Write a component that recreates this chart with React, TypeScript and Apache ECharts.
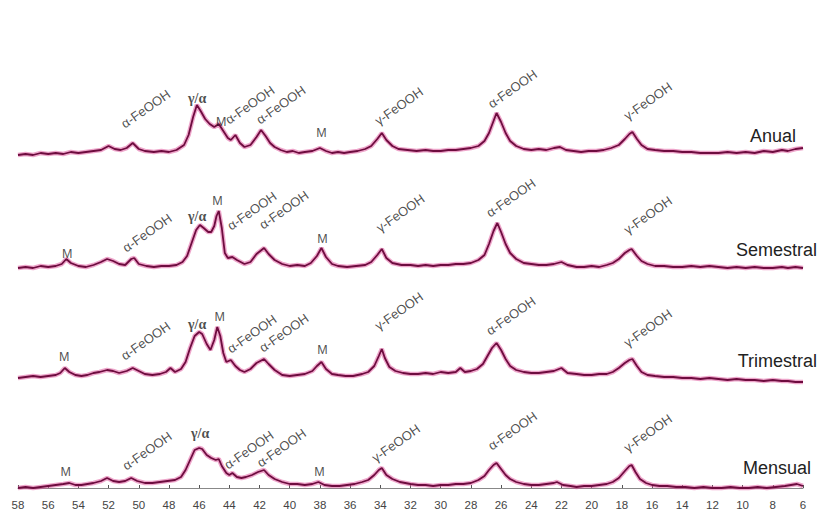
import React, { useEffect, useRef } from "react";
import * as echarts from "echarts";

// 2θ (degrees) vs relative intensity (arbitrary units above each trace's baseline)
const anual: [number, number][] = [
  [58.0, 0], [57.5, 1], [57.0, 0], [56.5, 2], [56.0, 1], [55.5, 2], [55.0, 1], [54.5, 3], [54.0, 2], [53.5, 3],
  [53.0, 4], [52.5, 5], [52.0, 9], [51.6, 6], [51.2, 5], [50.8, 7], [50.4, 12], [50.0, 6], [49.6, 4], [49.0, 3],
  [48.5, 4], [48.0, 3], [47.5, 5], [47.2, 8], [47.0, 10], [46.7, 20], [46.4, 38], [46.15, 50], [45.9, 44], [45.6, 36],
  [45.3, 31], [45.0, 28], [44.7, 31], [44.4, 24], [44.1, 17], [43.9, 15], [43.6, 20], [43.3, 12], [43.0, 8], [42.6, 10],
  [42.2, 18], [41.9, 25], [41.6, 19], [41.3, 12], [41.0, 8], [40.6, 5], [40.2, 3], [39.8, 4], [39.4, 2], [39.0, 3],
  [38.5, 4], [38.0, 7], [37.6, 4], [37.2, 2], [36.8, 3], [36.4, 2], [36.0, 3], [35.5, 4], [35.0, 6], [34.6, 9],
  [34.2, 16], [33.9, 22], [33.6, 15], [33.2, 9], [32.8, 6], [32.2, 5], [31.6, 4], [31.0, 5], [30.5, 4], [30.0, 4],
  [29.5, 5], [29.0, 5], [28.5, 6], [28.0, 7], [27.5, 9], [27.1, 14], [26.8, 22], [26.5, 34], [26.3, 42], [26.0, 33],
  [25.7, 22], [25.4, 14], [25.0, 9], [24.5, 6], [24.0, 5], [23.5, 6], [23.0, 5], [22.5, 7], [22.1, 8], [21.7, 5],
  [21.2, 4], [20.7, 3], [20.2, 4], [19.7, 4], [19.2, 5], [18.7, 7], [18.2, 10], [17.8, 16], [17.5, 21], [17.3, 23],
  [17.0, 16], [16.7, 10], [16.3, 6], [15.8, 5], [15.2, 4], [14.6, 4], [14.0, 3], [13.4, 3], [12.8, 2], [12.2, 2],
  [11.6, 2], [11.0, 3], [10.4, 2], [9.8, 3], [9.2, 2], [8.6, 4], [8.0, 3], [7.4, 5], [7.0, 4], [6.5, 6], [6.0, 7],
];

const semestral: [number, number][] = [
  [58.0, 0], [57.5, 1], [57.0, 0], [56.5, 2], [56.0, 1], [55.5, 2], [55.1, 4], [54.8, 9], [54.5, 5], [54.0, 2],
  [53.5, 1], [53.0, 3], [52.5, 6], [52.1, 9], [51.7, 7], [51.3, 4], [50.9, 3], [50.5, 9], [50.3, 10], [50.0, 4],
  [49.5, 2], [49.0, 1], [48.5, 2], [48.0, 2], [47.5, 3], [47.1, 6], [46.8, 12], [46.5, 25], [46.2, 38], [45.95, 43],
  [45.7, 40], [45.4, 36], [45.2, 36], [45.0, 42], [44.85, 52], [44.7, 57], [44.5, 40], [44.3, 15], [44.1, 10], [43.8, 11],
  [43.5, 8], [43.0, 4], [42.6, 6], [42.2, 14], [41.7, 20], [41.4, 14], [41.0, 8], [40.5, 4], [40.0, 2], [39.5, 3],
  [39.0, 2], [38.6, 5], [38.2, 12], [37.9, 20], [37.6, 11], [37.2, 4], [36.8, 2], [36.2, 1], [35.6, 2], [35.0, 3],
  [34.6, 6], [34.2, 13], [33.9, 19], [33.6, 10], [33.2, 5], [32.6, 3], [32.0, 3], [31.5, 2], [31.0, 3], [30.5, 2],
  [30.0, 3], [29.5, 3], [29.0, 4], [28.5, 4], [28.0, 5], [27.5, 8], [27.1, 13], [26.8, 24], [26.5, 37], [26.25, 45],
  [26.0, 36], [25.7, 24], [25.4, 15], [25.0, 9], [24.5, 5], [24.0, 4], [23.5, 3], [23.0, 3], [22.5, 4], [22.0, 6],
  [21.6, 3], [21.0, 1], [20.5, 1], [20.0, 2], [19.5, 1], [19.0, 3], [18.6, 5], [18.2, 9], [17.8, 15], [17.5, 18],
  [17.35, 19], [17.0, 12], [16.7, 7], [16.3, 4], [15.8, 2], [15.2, 2], [14.6, 1], [14.0, 1], [13.4, 2], [12.8, 1],
  [12.2, 2], [11.6, 1], [11.0, 0], [10.4, 1], [9.8, 0], [9.2, 1], [8.6, 0], [8.0, 0], [7.4, 1], [7.0, 0], [6.5, 1], [6.0, 0],
];

const trimestral: [number, number][] = [
  [58.0, 0], [57.5, 1], [57.0, 2], [56.5, 1], [56.0, 2], [55.5, 3], [55.2, 5], [54.9, 10], [54.6, 6], [54.2, 3],
  [53.8, 2], [53.4, 3], [53.0, 5], [52.6, 6], [52.1, 8], [51.7, 7], [51.3, 5], [50.8, 7], [50.4, 10], [50.0, 7],
  [49.6, 4], [49.1, 3], [48.6, 4], [48.2, 6], [47.9, 10], [47.6, 6], [47.2, 9], [46.9, 16], [46.6, 30], [46.3, 42],
  [46.0, 46], [45.8, 44], [45.5, 34], [45.25, 28], [45.0, 38], [44.8, 51], [44.6, 42], [44.4, 25], [44.2, 16], [43.9, 18],
  [43.6, 12], [43.3, 8], [43.0, 6], [42.6, 9], [42.2, 15], [41.7, 19], [41.4, 14], [41.0, 8], [40.5, 3], [40.0, 2],
  [39.5, 3], [39.0, 4], [38.5, 7], [38.2, 12], [37.9, 16], [37.6, 9], [37.2, 4], [36.8, 3], [36.3, 2], [35.8, 2],
  [35.2, 4], [34.8, 6], [34.4, 12], [34.1, 22], [33.9, 29], [33.7, 20], [33.4, 11], [33.0, 7], [32.5, 5], [32.0, 4],
  [31.5, 4], [31.0, 5], [30.5, 4], [30.0, 6], [29.5, 5], [29.0, 6], [28.7, 10], [28.4, 6], [28.0, 7], [27.6, 9],
  [27.2, 14], [26.9, 22], [26.6, 30], [26.3, 35], [26.0, 28], [25.7, 19], [25.4, 12], [25.0, 8], [24.5, 6], [24.0, 5],
  [23.5, 5], [23.0, 6], [22.5, 7], [22.0, 10], [21.6, 5], [21.0, 4], [20.5, 3], [20.0, 3], [19.5, 4], [19.0, 4],
  [18.6, 6], [18.2, 10], [17.8, 15], [17.5, 18], [17.3, 19], [17.0, 12], [16.7, 6], [16.3, 3], [15.8, 2], [15.2, 1],
  [14.6, 1], [14.0, 0], [13.4, 0], [12.8, -1], [12.2, 0], [11.6, -1], [11.0, -2], [10.4, -1], [9.8, -2], [9.2, -2],
  [8.6, -3], [8.0, -2], [7.4, -3], [7.0, -3], [6.5, -4], [6.0, -4],
];

const mensual: [number, number][] = [
  [58.0, 0], [57.5, 1], [57.0, 0], [56.5, 1], [56.0, 2], [55.5, 3], [55.0, 4], [54.6, 5], [54.2, 3], [53.8, 3],
  [53.4, 4], [53.0, 5], [52.5, 7], [52.1, 10], [51.7, 7], [51.3, 6], [50.9, 7], [50.5, 10], [50.1, 7], [49.6, 5],
  [49.1, 5], [48.6, 6], [48.1, 7], [47.6, 8], [47.2, 11], [46.9, 18], [46.6, 28], [46.3, 38], [46.0, 40], [45.8, 39],
  [45.5, 33], [45.2, 30], [44.9, 28], [44.7, 29], [44.5, 22], [44.2, 15], [44.0, 13], [43.8, 15], [43.5, 11], [43.2, 10],
  [42.9, 11], [42.5, 13], [42.1, 16], [41.7, 18], [41.4, 13], [41.0, 9], [40.5, 6], [40.0, 4], [39.5, 4], [39.0, 3],
  [38.5, 4], [38.1, 6], [37.7, 3], [37.2, 2], [36.7, 2], [36.2, 3], [35.7, 4], [35.2, 6], [34.8, 8], [34.4, 13],
  [34.1, 18], [33.9, 20], [33.6, 13], [33.2, 9], [32.7, 6], [32.0, 4], [31.5, 3], [31.0, 3], [30.5, 2], [30.0, 3],
  [29.5, 3], [29.0, 4], [28.5, 4], [28.0, 5], [27.5, 8], [27.1, 12], [26.8, 18], [26.5, 23], [26.3, 25], [26.0, 19],
  [25.7, 13], [25.4, 9], [25.0, 6], [24.5, 4], [24.0, 3], [23.5, 3], [23.0, 4], [22.5, 5], [22.3, 6], [21.9, 3],
  [21.4, 2], [21.0, 1], [20.5, 2], [20.0, 2], [19.5, 3], [19.0, 4], [18.6, 6], [18.2, 10], [17.8, 17], [17.5, 22],
  [17.35, 23], [17.1, 16], [16.8, 9], [16.4, 5], [16.0, 3], [15.5, 2], [15.0, 2], [14.4, 1], [13.8, 1], [13.2, 0],
  [12.6, 1], [12.0, 0], [11.4, 0], [10.8, 1], [10.2, 0], [9.6, 0], [9.0, 1], [8.4, 0], [7.8, 1], [7.2, 2], [6.8, 3],
  [6.4, 4], [6.0, 2],
];

// Phase annotations: [2θ, intensity, text]
const anualLabels: [number, number, string][] = [
  [50.8, 24, "α-FeOOH"], [46.1, 56, "γ/α"], [44.5, 33, "M"], [43.9, 28, "α-FeOOH"], [41.84, 28, "α-FeOOH"],
  [37.87, 22, "M"], [34.0, 27, "γ-FeOOH"], [26.5, 44, "α-FeOOH"], [17.5, 32, "γ-FeOOH"],
];
const semestralLabels: [number, number, string][] = [
  [54.7, 14, "M"], [50.7, 13, "α-FeOOH"], [46.1, 51, "γ/α"], [44.75, 67, "M"], [43.76, 35, "α-FeOOH"],
  [41.64, 36, "α-FeOOH"], [37.8, 29, "M"], [33.9, 33, "γ-FeOOH"], [26.6, 48, "α-FeOOH"], [17.5, 31, "γ-FeOOH"],
];
const trimestralLabels: [number, number, string][] = [
  [54.9, 21, "M"], [50.8, 15, "α-FeOOH"], [46.1, 53, "γ/α"], [44.6, 61, "M"], [43.76, 22, "α-FeOOH"],
  [41.64, 23, "α-FeOOH"], [37.8, 28, "M"], [34.0, 45, "γ-FeOOH"], [26.6, 40, "α-FeOOH"], [17.5, 28, "γ-FeOOH"],
];
const mensualLabels: [number, number, string][] = [
  [54.8, 16, "M"], [50.7, 15, "α-FeOOH"], [45.9, 54, "γ/α"], [43.96, 16, "α-FeOOH"], [41.8, 18, "α-FeOOH"],
  [38.0, 16, "M"], [34.2, 23, "γ-FeOOH"], [26.5, 35, "α-FeOOH"], [17.5, 33, "γ-FeOOH"],
];

const sampleNames = ["Anual", "Semestral", "Trimestral", "Mensual"];
const xTickMin = 6;
const xTickMax = 58;
const xTickStep = 2;

export default function App() {
  const ref = useRef<HTMLDivElement>(null);

  useEffect(() => {
    if (!ref.current) return;
    const chart = echarts.init(ref.current, null, { renderer: "svg" });

    const traces = [
      { data: anual, labels: anualLabels },
      { data: semestral, labels: semestralLabels },
      { data: trimestral, labels: trimestralLabels },
      { data: mensual, labels: mensualLabels },
    ];
    const baseY = [155, 268, 378, 488];
    const bottomY = 519;
    const nameLayout = [
      { x: 796, y: 136 },
      { x: 817, y: 250 },
      { x: 817, y: 361 },
      { x: 811, y: 468 },
    ];

    const grids = traces.map((_, i) => {
      const top = baseY[i] - 95;
      const height = i === traces.length - 1 ? bottomY - top : 100;
      return { left: 18, right: 15, top, height };
    });

    const xAxes = traces.map((_, i) => {
      const last = i === traces.length - 1;
      return {
        type: "value",
        gridIndex: i,
        min: xTickMin,
        max: xTickMax,
        interval: xTickStep,
        inverse: true,
        show: last,
        splitLine: { show: false },
        axisLine: { show: last, lineStyle: { color: "#888", width: 1 } },
        axisTick: { show: last, inside: true, length: 3, lineStyle: { color: "#555" } },
        axisLabel: {
          show: last,
          inside: true,
          margin: 8,
          fontSize: 11.5,
          fontFamily: "Liberation Sans, Arial, sans-serif",
          color: "#444",
        },
      };
    });

    const yAxes = traces.map((_, i) => {
      const last = i === traces.length - 1;
      return {
        type: "value",
        gridIndex: i,
        min: last ? -(bottomY - baseY[i]) : -5,
        max: 95,
        show: false,
        splitLine: { show: false },
      };
    });

    const series: any[] = [];
    traces.forEach((t, i) => {
      series.push({
        type: "line",
        xAxisIndex: i,
        yAxisIndex: i,
        data: t.data,
        showSymbol: false,
        symbol: "none",
        silent: true,
        lineStyle: { color: "#dd4d97", width: 4.5, opacity: 0.5 },
        z: 2,
      });
      series.push({
        type: "line",
        xAxisIndex: i,
        yAxisIndex: i,
        data: t.data,
        showSymbol: false,
        symbol: "none",
        silent: true,
        lineStyle: { color: "#6e0c3f", width: 1.8 },
        z: 3,
      });
      series.push({
        type: "scatter",
        xAxisIndex: i,
        yAxisIndex: i,
        symbolSize: 1,
        itemStyle: { color: "rgba(0,0,0,0)" },
        silent: true,
        z: 4,
        data: t.labels.map(([x, y, text]) => {
          const isPhase = text.indexOf("FeOOH") >= 0;
          const isMix = text === "γ/α";
          return {
            value: [x, y],
            name: text,
            label: isPhase
              ? {
                  show: true,
                  formatter: text,
                  position: [0, 0],
                  rotate: 35,
                  align: "left",
                  verticalAlign: "bottom",
                  fontSize: 13,
                  fontFamily: "Liberation Sans, Arial, sans-serif",
                  color: "#1e1e1e",
                }
              : {
                  show: true,
                  formatter: text,
                  position: [0, 0],
                  align: "center",
                  verticalAlign: "middle",
                  fontSize: isMix ? 14 : 12.5,
                  fontWeight: isMix ? "bold" : "normal",
                  fontFamily: isMix ? "Liberation Serif, serif" : "Liberation Sans, Arial, sans-serif",
                  color: "#1e1e1e",
                },
          };
        }),
      });
    });

    const graphic = sampleNames.map((name, i) => ({
      type: "text",
      x: nameLayout[i].x,
      y: nameLayout[i].y,
      style: {
        text: name,
        align: "right",
        verticalAlign: "middle",
        fontSize: 18,
        fontFamily: "Liberation Sans, Arial, sans-serif",
        fill: "#222",
      },
      z: 10,
    }));

    chart.setOption({
      animation: false,
      backgroundColor: "#ffffff",
      grid: grids,
      xAxis: xAxes,
      yAxis: yAxes,
      series,
      graphic,
    });

    return () => chart.dispose();
  }, []);

  return (
    <div
      ref={ref}
      style={{ position: "fixed", left: 0, top: 0, width: 818, height: 520, background: "#fff" }}
    />
  );
}
